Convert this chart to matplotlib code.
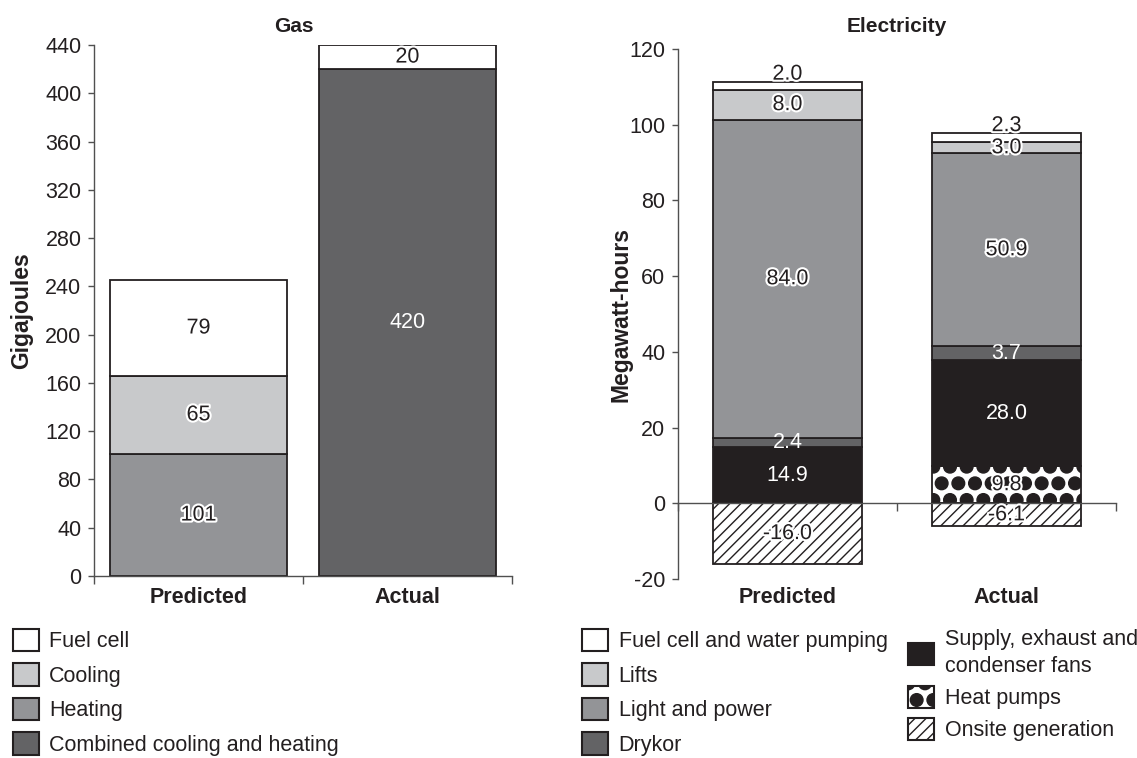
import matplotlib
matplotlib.use('Agg')
import matplotlib.pyplot as plt
import matplotlib.hatch as mhatch
import matplotlib.patheffects as pe
from matplotlib.patches import Patch
import numpy as np

# heat pump pattern: big filled dots instead of rings
mhatch.LargeCircles.size = 0.38
mhatch.LargeCircles.filled = True

plt.rcParams['font.family'] = ['Liberation Sans', 'DejaVu Sans']
plt.rcParams['font.size'] = 15
plt.rcParams['hatch.linewidth'] = 1.0
plt.rcParams['axes.unicode_minus'] = False

INK = '#231f20'
AXC = '#505050'

categories = ['Predicted', 'Actual']

# Gas (gigajoules), stacked bottom -> top
gas_names = ['Combined cooling and heating', 'Heating', 'Cooling', 'Fuel cell']
gas_colors = ['#636365', '#939497', '#c8c9cb', '#ffffff']
gas_combined = [0, 420]
gas_heating = [101, 0]
gas_cooling = [65, 0]
gas_fuelcell = [79, 20]
gas_ticks = list(range(0, 441, 40))

# Electricity (megawatt-hours), stacked bottom -> top
el_names = ['Heat pumps', 'Supply, exhaust and\ncondenser fans', 'Drykor',
            'Light and power', 'Lifts', 'Fuel cell and water pumping']
el_colors = ['#ffffff', INK, '#636365', '#939497', '#c8c9cb', '#ffffff']
el_hatches = ['O', None, None, None, None, None]
el_heatpumps = [0, 9.8]
el_fans = [14.9, 28.0]
el_drykor = [2.4, 3.7]
el_light = [84.0, 50.9]
el_lifts = [8.0, 3.0]
el_fuelcell = [2.0, 2.3]
el_onsite = [-16.0, -6.1]
el_ticks = list(range(-20, 121, 20))

dark_series = ['Combined cooling and heating', 'Drykor', 'Supply, exhaust and\ncondenser fans']
outline = [pe.withStroke(linewidth=3, foreground='white')]

fig = plt.figure(figsize=(11.37, 7.58), dpi=100)


def style_axes(ax, ticks, lo, hi):
    ax.set_xlim(-0.5, 1.5)
    ax.set_ylim(lo, hi)
    ax.set_yticks(ticks)
    ax.set_xticks([-0.5, 0.5, 1.5])
    ax.set_xticklabels([])
    for s in ['top', 'right']:
        ax.spines[s].set_visible(False)
    for s in ['left', 'bottom']:
        ax.spines[s].set_color(AXC)
        ax.spines[s].set_linewidth(1.0)
    ax.tick_params(axis='y', direction='out', length=4, width=1, color=AXC,
                   pad=5, labelsize=15.5, labelcolor=INK)
    ax.tick_params(axis='x', direction='out', length=6, width=1, color=AXC)


def draw_label(ax, x, y, val, name, fmt, va='center'):
    if name in dark_series:
        ax.text(x, y, fmt % val, ha='center', va=va, color='white', fontsize=15.5)
    else:
        ax.text(x, y, fmt % val, ha='center', va=va, color=INK, fontsize=15.5,
                path_effects=outline)


# ---- Gas ----
ax1 = fig.add_axes([94 / 1137, 1 - 576 / 758, (512 - 94) / 1137, (576 - 45) / 758])
style_axes(ax1, gas_ticks, 0, 440)
x = np.arange(len(categories))
gas_vals = [gas_combined, gas_heating, gas_cooling, gas_fuelcell]
bottom = np.zeros(len(categories))
for name, vals, col in zip(gas_names, gas_vals, gas_colors):
    vals = np.array(vals, dtype=float)
    ax1.bar(x, vals, 0.847, bottom=bottom, color=col, edgecolor=INK, linewidth=1.3)
    for i, v in enumerate(vals):
        if v != 0:
            draw_label(ax1, x[i], bottom[i] + v / 2, v, name, '%d')
    bottom = bottom + vals
for i, c in enumerate(categories):
    ax1.text(x[i], -0.04, c, transform=ax1.get_xaxis_transform(), ha='center',
             va='center', fontweight='bold', fontsize=15.5, color=INK)
ax1.set_ylabel('Gigajoules', fontweight='bold', fontsize=16.5, color=INK)
ax1.yaxis.set_label_coords(-0.146, 0.5)
fig.text(294 / 1137, 1 - 26 / 758, 'Gas', ha='center', va='center',
         fontweight='bold', fontsize=15, color=INK)

# ---- Electricity ----
ax2 = fig.add_axes([678 / 1137, 1 - 579 / 758, (1116 - 678) / 1137, (579 - 49) / 758])
style_axes(ax2, el_ticks, -20, 120)
ax2.spines['bottom'].set_position(('data', 0))
el_vals = [el_heatpumps, el_fans, el_drykor, el_light, el_lifts, el_fuelcell]
bottom = np.zeros(len(categories))
for k, (name, vals, col, h) in enumerate(zip(el_names, el_vals, el_colors, el_hatches)):
    vals = np.array(vals, dtype=float)
    ax2.bar(x, vals, 0.676, bottom=bottom, color=col, edgecolor=INK, linewidth=1.3, hatch=h)
    for i, v in enumerate(vals):
        if v == 0:
            continue
        if k == len(el_names) - 1:
            draw_label(ax2, x[i], bottom[i] + v + 0.6, v, name, '%.1f', va='baseline')
        else:
            draw_label(ax2, x[i], bottom[i] + v / 2, v, name, '%.1f')
    bottom = bottom + vals
onsite = np.array(el_onsite)
ax2.bar(x, onsite, 0.676, color='white', edgecolor=INK, linewidth=1.3, hatch='///')
for i, v in enumerate(onsite):
    draw_label(ax2, x[i], v / 2, v, 'Onsite generation', '%.1f')
for i, c in enumerate(categories):
    ax2.text(x[i], -0.034, c, transform=ax2.get_xaxis_transform(), ha='center',
             va='center', fontweight='bold', fontsize=15.5, color=INK)
ax2.set_ylabel('Megawatt-hours', fontweight='bold', fontsize=16.5, color=INK)
ax2.yaxis.set_label_coords(-0.105, 0.5)
fig.text(897 / 1137, 1 - 26 / 758, 'Electricity', ha='center', va='center',
         fontweight='bold', fontsize=15, color=INK)

# ---- legends ----
leg_kw = dict(loc='upper left', frameon=False, borderpad=0, borderaxespad=0,
              handlelength=1.2, handleheight=1.2, handletextpad=0.5,
              labelspacing=0.52, fontsize=15.5)


def patch(col, h=None):
    return Patch(facecolor=col, edgecolor=INK, linewidth=1.5, hatch=h)


gas_order = [3, 2, 1, 0]
l1 = fig.legend([patch(gas_colors[i]) for i in gas_order], [gas_names[i] for i in gas_order],
                bbox_to_anchor=(12.7 / 1137, 1 - 629 / 758), **leg_kw)
col1 = [5, 4, 3, 2]
l2 = fig.legend([patch(el_colors[i]) for i in col1], [el_names[i] for i in col1],
                bbox_to_anchor=(582 / 1137, 1 - 629 / 758), **leg_kw)
col2_h = [patch(el_colors[1]), patch('white', 'O'), patch('white', '///')]
col2_l = [el_names[1], el_names[0], 'Onsite generation']
l3 = fig.legend(col2_h, col2_l, bbox_to_anchor=(908 / 1137, 1 - 629 / 758),
                **dict(leg_kw, labelspacing=0.42))
l3.get_texts()[0].set_linespacing(1.35)
for lg in (l1, l2, l3):
    for t in lg.get_texts():
        t.set_color(INK)

fig.savefig('out.png', dpi=100)
